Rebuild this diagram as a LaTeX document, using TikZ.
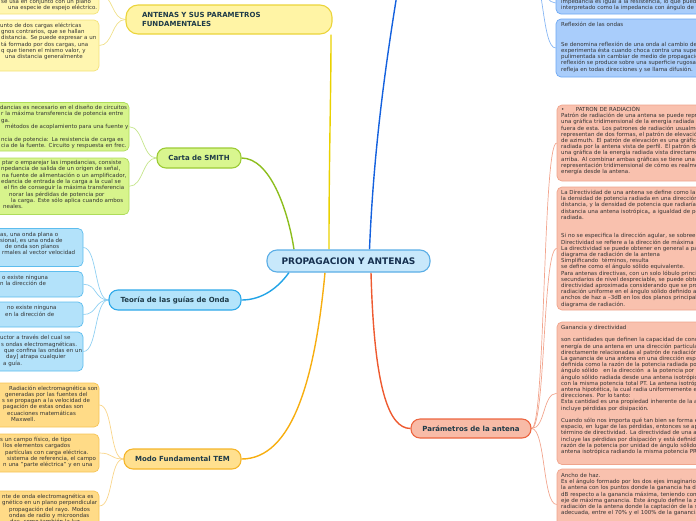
\documentclass[tikz,border=0pt]{standalone}
\usepackage{fontspec}
\setmainfont{DejaVu Sans}
\pgfdeclarelayer{bg}
\pgfsetlayers{bg,main}
\definecolor{cTxt}{HTML}{1E3A48}
\definecolor{cTxtC}{HTML}{16304F}
\definecolor{bodyTxt}{HTML}{333333}
\definecolor{cF}{HTML}{C8E8FB}\definecolor{cD}{HTML}{5BAEE6}
\definecolor{yF}{HTML}{FFF4A5}\definecolor{yD}{HTML}{EBD43A}\definecolor{yBF}{HTML}{FFF6B0}\definecolor{yBD}{HTML}{F3E27A}\definecolor{yC}{HTML}{E9D100}\definecolor{yS}{HTML}{F0E08A}
\definecolor{gF}{HTML}{D9F68F}\definecolor{gD}{HTML}{9CCB35}\definecolor{gBF}{HTML}{D7F48C}\definecolor{gBD}{HTML}{AEDC5A}\definecolor{gC}{HTML}{8DBE1E}\definecolor{gS}{HTML}{C5E58A}
\definecolor{lF}{HTML}{B4E4FB}\definecolor{lD}{HTML}{2FA9E9}\definecolor{lBF}{HTML}{B3E2FA}\definecolor{lBD}{HTML}{5DBDEE}\definecolor{lC}{HTML}{21A3E6}\definecolor{lS}{HTML}{8FD0F2}
\definecolor{oF}{HTML}{FFE08F}\definecolor{oD}{HTML}{F5B52A}\definecolor{oBF}{HTML}{FFDB87}\definecolor{oBD}{HTML}{F6C455}\definecolor{oC}{HTML}{F7AE10}\definecolor{oS}{HTML}{F9D58A}
\definecolor{sF}{HTML}{F8BBA7}\definecolor{sD}{HTML}{EC6540}\definecolor{sBF}{HTML}{F9C1AE}\definecolor{sBD}{HTML}{EFA48C}\definecolor{sC}{HTML}{EE5A30}\definecolor{sS}{HTML}{F2A58E}
\definecolor{bBF}{HTML}{A9CDFB}\definecolor{bBD}{HTML}{6DA8F3}\definecolor{bC}{HTML}{1461DE}\definecolor{bS}{HTML}{86B6F4}
\begin{document}
\begin{tikzpicture}[x=1pt,y=-1pt,
  topic/.style={rounded corners=9pt, line width=1.1pt, font=\fontsize{7}{9.3}\selectfont\bfseries, text=cTxt, inner sep=0pt},
  box/.style={rounded corners=5pt, line width=0.7pt, inner sep=0pt},
  body/.style={anchor=base west, inner sep=0pt, text width=200pt, align=left, font=\fontsize{5.5}{6.3}\selectfont, text=bodyTxt},
  bodyr/.style={body, font=\fontsize{5.5}{6.2}\selectfont},
  mainc/.style={line width=1.4pt},
  subc/.style={line width=0.7pt}]
\useasboundingbox (0,0) rectangle (696,520);

% ---- topic nodes
\node[topic, fill=cF, draw=cD, minimum width=163pt, minimum height=22pt, rounded corners=10pt, font=\fontsize{9}{10}\selectfont\bfseries, text=cTxtC] (c) at (348.5,261) {PROPAGACION Y ANTENAS};
\node[topic, fill=yF, draw=yD, minimum width=206pt, minimum height=29pt, rounded corners=12pt, text width=174pt, inner xsep=16pt, align=left] (ant) at (229,19.5) {ANTENAS Y SUS PARAMETROS\\FUNDAMENTALES};
\node[topic, fill=gF, draw=gD, minimum width=84pt, minimum height=20pt] (smith) at (199,158) {Carta de SMITH};
\node[topic, fill=lF, draw=lD, minimum width=132pt, minimum height=20pt] (guia) at (175,300) {Teoría de las guías de Onda};
\node[topic, fill=oF, draw=oD, minimum width=117pt, minimum height=20pt] (tem) at (182.5,459) {Modo Fundamental TEM};
\node[topic, fill=sF, draw=sD, minimum width=120pt, minimum height=19pt] (par) at (471,428.5) {Parámetros de la antena};
\coordinate (btop) at (398,-12);
\coordinate (bsrc) at (530,-30);

% ---- child boxes
\node[box, fill=yBF, draw=yBD, minimum width=124pt, minimum height=39pt] (y1) at (37,-5.5) {};
\node[box, fill=yBF, draw=yBD, minimum width=124pt, minimum height=51pt] (y2) at (37,45.5) {};
\node[box, fill=gBF, draw=gBD, minimum width=154pt, minimum height=48.5pt] (ga) at (52,126.75) {};
\node[box, fill=gBF, draw=gBD, minimum width=154pt, minimum height=56.5pt] (gb) at (52,186.25) {};
\node[box, fill=lBF, draw=lBD, minimum width=108pt, minimum height=38pt] (lc) at (29,247.5) {};
\node[box, fill=lBF, draw=lBD, minimum width=108pt, minimum height=25.5pt] (ld) at (29,284.25) {};
\node[box, fill=lBF, draw=lBD, minimum width=108pt, minimum height=25pt] (le) at (29,314.5) {};
\node[box, fill=lBF, draw=lBD, minimum width=108pt, minimum height=39pt] (lf) at (29,351.5) {};
\node[box, fill=oBF, draw=oBD, minimum width=124pt, minimum height=44pt] (og) at (37,405) {};
\node[box, fill=oBF, draw=oBD, minimum width=124pt, minimum height=38pt] (oh) at (37,453) {};
\node[box, fill=oBF, draw=oBD, minimum width=124pt, minimum height=49pt] (oi) at (37,515.5) {};
\node[box, fill=bBF, draw=bBD, minimum width=164pt, minimum height=54pt] (r0) at (638,-13) {};
\node[box, fill=bBF, draw=bBD, minimum width=164pt, minimum height=58pt] (r1) at (638,48) {};
\node[box, fill=sBF, draw=sBD, minimum width=163pt, minimum height=76pt] (p1) at (638.5,143) {};
\node[box, fill=sBF, draw=sBD, minimum width=163pt, minimum height=123pt] (p2) at (638.5,248.5) {};
\node[box, fill=sBF, draw=sBD, minimum width=163pt, minimum height=142.5pt] (p3) at (638.5,393.25) {};
\node[box, fill=sBF, draw=sBD, minimum width=163pt, minimum height=71pt] (p4) at (638.5,504.5) {};

% ---- texts left
\node[body] (ty1) at (0,3.5) {\hspace*{1pt}se usa en conjunto con un plano\\\hspace*{8pt}una especie de espejo eléctrico.};
\node[body] (ty2) at (0,27.2) {unto de dos cargas eléctricas\\\hspace*{1pt}gnos contrarios, que se hallan\\\hspace*{1pt}distancia. Se puede expresar a un\\\hspace*{1pt}tá formado por dos cargas, una\\\hspace*{1pt}q que tienen el mismo valor, y\\\hspace*{5pt}una distancia generalmente};
\node[body] (tga) at (0,109.5) {dancias es necesario en el diseño de circuitos\\\hspace*{1pt}r la máxima transferencia de potencia entre\\\hspace*{1pt}ga.\\\hspace*{5pt}métodos de acoplamiento para una fuente y\\[6.3pt]\hspace*{1pt}ncia de potencia: La resistencia de carga es\\\hspace*{1pt}cia de la fuente. Circuito y respuesta en frec.};
\node[body] (tgb) at (0,164.5) {\hspace*{2pt}ptar o emparejar las impedancias, consiste\\\hspace*{1pt}npedancia de salida de un origen de señal,\\\hspace*{2pt}na fuente de alimentación o un amplificador,\\\hspace*{1pt}edancia de entrada de la carga a la cual se\\\hspace*{4pt}el fin de conseguir la máxima transferencia\\\hspace*{9pt}norar las pérdidas de potencia por\\\hspace*{11pt}la carga. Este sólo aplica cuando ambos\\\hspace*{3pt}neales.};
\node[body] (tlc) at (0,236) {as, una onda plana o\\sional, es una onda de\\\hspace*{5pt}de onda son planos\\\hspace*{2pt}rmales al vector velocidad};
\node[body] (tld) at (0,279) {\hspace*{2pt}o existe ninguna\\n la dirección de};
\node[body] (tle) at (0,309.8) {\hspace*{7pt}no existe ninguna\\\hspace*{5pt}en la dirección de};
\node[body] (tlf) at (0,339.8) {uctor a través del cual se\\\hspace*{1pt}s ondas electromagnéticas.\\\hspace*{4pt}que confina las ondas en un\\\hspace*{6pt}day] atrapa cualquier\\\hspace*{3pt}a guía.};
\node[body] (tog) at (0,390) {\hspace*{9pt}Radiación electromagnética son\\\hspace*{5pt}generadas por las fuentes del\\\hspace*{2pt}s se propagan a la velocidad de\\\hspace*{3pt}pagación de estas ondas son\\\hspace*{7pt}ecuaciones matemáticas\\\hspace*{11pt}Maxwell.};
\node[body] (toh) at (0,441.5) {s un campo físico, de tipo\\\hspace*{3pt}llos elementos cargados\\\hspace*{5pt}partículas con carga eléctrica.\\\hspace*{7pt}sistema de referencia, el campo\\\hspace*{3pt}n una "parte eléctrica" y en una};
\node[body] (toi) at (0,498.5) {\hspace*{2pt}nte de onda electromagnética es\\\hspace*{2pt}gnético en un plano perpendicular\\\hspace*{9pt}propagación del rayo. Modos\\\hspace*{9pt}ondas de radio y microondas\\\hspace*{10pt}das, como también la luz};

% ---- texts right
\node[body] (tr0) at (561,3.5) {impedancia es igual a la resistencia, lo que puede\\interpretado como la impedancia con ángulo de fase};
\node[body] (tr1) at (561,26.5) {Reflexión de las ondas\\[13.2pt]Se denomina reflexión de una onda al cambio de\\experimenta ésta cuando choca contra una superficie\\pulimentada sin cambiar de medio de propagación.\\reflexión se produce sobre una superficie rugosa,\\refleja en todas direcciones y se llama difusión.};
\node[bodyr] (tp1) at (561,111.5) {\makebox[14.7pt][l]{•}PATRON DE RADIACIÓN\\Patrón de radiación de una antena se puede representar\\una gráfica tridimensional de la energía radiada\\fuera de esta. Los patrones de radiación usualmente\\representan de dos formas, el patrón de elevación\\de azimuth. El patrón de elevación es una gráfica\\radiada por la antena vista de perfil. El patrón de\\una gráfica de la energía radiada vista directamente\\arriba. Al combinar ambas gráficas se tiene una\\representación tridimensional de cómo es realmente\\energía desde la antena.};
\node[bodyr] (tp2) at (561,194.5) {La Directividad de una antena se define como la\\la densidad de potencia radiada en una dirección\\distancia, y la densidad de potencia que radiaría\\distancia una antena isotrópica,, a igualdad de potencia\\radiada.\\[12.4pt]Si no se especifica la dirección agular, se sobreentiende\\Directividad se refiere a la dirección de máxima\\La directividad se puede obtener en general a partir\\diagrama de radiación de la antena\\Simplificando\ \ términos, resulta\\se define como el ángulo sólido equivalente.\\Para antenas directivas, con un solo lóbulo principal\\secundarios de nivel despreciable, se puede obtener\\directividad aproximada considerando que se produce\\radiación uniforme en el ángulo sólido definido a\\anchos de haz a –3dB en los dos planos principales\\diagrama de radiación.};
\node[bodyr] (tp3) at (561,329.5) {Ganancia y directividad\\[6.2pt]son cantidades que definen la capacidad de concentrar\\energía de una antena en una dirección particular\\directamente relacionadas al patrón de radiación\\La ganancia de una antena en una dirección específica\\definida como la razón de la potencia radiada por\\ángulo sólido\ \ \ en la dirección\ \ a la potencia por\\ángulo sólido radiada desde una antena isotrópica\\con la misma potencia total PT. La antena isotrópica\\antena hipotética, la cual radia uniformemente en\\direcciones. Por lo tanto:\\Esta cantidad es una propiedad inherente de la antena\\incluye pérdidas por disipación.\\[6.2pt]Cuando sólo nos importa qué tan bien se forma el\\espacio, en lugar de las pérdidas, entonces se aplica\\término de directividad. La directividad de una antena\\incluye las pérdidas por disipación y está definida\\razón de la potencia por unidad de ángulo sólido\\antena isotrópica radiando la misma potencia PRAD};
\node[bodyr] (tp4) at (561,477.5) {Ancho de haz.\\Es el ángulo formado por los dos ejes imaginarios\\la antena con los puntos donde la ganancia ha decaído\\dB respecto a la ganancia máxima, teniendo como\\eje de máxima ganancia. Este ángulo define la zona\\radiación de la antena donde la captación de la señal\\adecuada, entre el 70\% y el 100\% de la ganancia};

% ---- connectors
\begin{pgfonlayer}{bg}
\draw[mainc, draw=yC] ([xshift=-19.5pt]c.north) .. controls (329,150) and (331,100) .. ([xshift=102pt]ant.south);
\draw[mainc, draw=bC] ([xshift=21pt]c.north) .. controls (374,140) and (388,50) .. (btop);
\draw[mainc, draw=gC] ([xshift=-54.5pt]c.north) .. controls (288,210) and (270,158) .. (smith.east);
\draw[mainc, draw=lC] ([xshift=-59.5pt]c.south) .. controls (275,292) and (258,300) .. (guia.east);
\draw[mainc, draw=oC] ([xshift=-23.5pt]c.south) .. controls (315,380) and (292,459) .. (tem.east);
\draw[mainc, draw=sC] ([xshift=22.5pt]c.south) .. controls (374,385) and (388,428.5) .. (par.west);

\foreach \b in {y1,y2}{\draw[subc, draw=yS] (ant.west) .. controls +(-14,0) and +(14,0) .. (\b.east);}
\foreach \b in {ga,gb}{\draw[subc, draw=gS] (smith.west) .. controls +(-14,0) and +(14,0) .. (\b.east);}
\foreach \b in {lc,ld,le,lf}{\draw[subc, draw=lS] (guia.west) .. controls +(-14,0) and +(14,0) .. (\b.east);}
\foreach \b in {og,oh}{\draw[subc, draw=oS] (tem.west) .. controls +(-14,0) and +(14,0) .. (\b.east);}
\draw[subc, draw=oS] (tem.west) .. controls +(-14,0) and +(14,0) .. ([yshift=9.5pt]oi.east);
\foreach \b in {p1,p2,p3,p4}{\draw[subc, draw=sS] (par.east) .. controls +(14,0) and +(-14,0) .. (\b.west);}
\draw[subc, draw=bS] (bsrc) .. controls +(14,0) and +(-14,0) .. ([yshift=-16pt]r0.west);
\draw[subc, draw=bS] (bsrc) .. controls +(14,0) and +(-14,0) .. (r1.west);
\end{pgfonlayer}
\end{tikzpicture}
\end{document}
